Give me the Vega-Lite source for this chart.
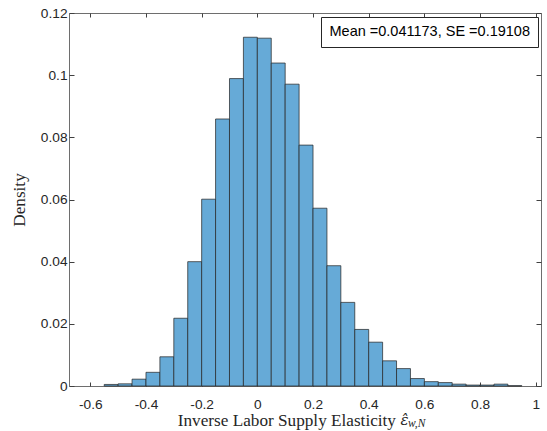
{
  "$schema": "https://vega.github.io/schema/vega-lite/v6.json",
  "width": 472,
  "height": 373,
  "autosize": {"type": "none"},
  "padding": {"left": 69, "top": 13, "right": 6, "bottom": 45},
  "background": "white",
  "config": {
    "view": {"stroke": "#6e6e6e", "strokeWidth": 1},
    "scale": {"continuousPadding": 0},
    "axis": {"grid": false, "domain": false, "tickColor": "#404040", "labelColor": "#262626", "labelFont": "Liberation Sans", "labelFontSize": 13.7, "titleFont": "Liberation Serif", "titleFontSize": 17.2, "titleFontWeight": "normal", "titleColor": "#262626"}
  },
  "data": {
    "values": [
      {"start": -0.55, "end": -0.5, "density": 0.0005},
      {"start": -0.5, "end": -0.45, "density": 0.0007},
      {"start": -0.45, "end": -0.4, "density": 0.0022},
      {"start": -0.4, "end": -0.35, "density": 0.0044},
      {"start": -0.35, "end": -0.3, "density": 0.0094},
      {"start": -0.3, "end": -0.25, "density": 0.0218},
      {"start": -0.25, "end": -0.2, "density": 0.04},
      {"start": -0.2, "end": -0.15, "density": 0.0601},
      {"start": -0.15, "end": -0.1, "density": 0.0859},
      {"start": -0.1, "end": -0.05, "density": 0.0989},
      {"start": -0.05, "end": 0, "density": 0.1122},
      {"start": 0, "end": 0.05, "density": 0.1119},
      {"start": 0.05, "end": 0.1, "density": 0.1039},
      {"start": 0.1, "end": 0.15, "density": 0.0971},
      {"start": 0.15, "end": 0.2, "density": 0.0775},
      {"start": 0.2, "end": 0.25, "density": 0.0572},
      {"start": 0.25, "end": 0.3, "density": 0.0387},
      {"start": 0.3, "end": 0.35, "density": 0.0269},
      {"start": 0.35, "end": 0.4, "density": 0.0182},
      {"start": 0.4, "end": 0.45, "density": 0.0141},
      {"start": 0.45, "end": 0.5, "density": 0.0081},
      {"start": 0.5, "end": 0.55, "density": 0.0056},
      {"start": 0.55, "end": 0.6, "density": 0.0024},
      {"start": 0.6, "end": 0.65, "density": 0.0014},
      {"start": 0.65, "end": 0.7, "density": 0.0011},
      {"start": 0.7, "end": 0.75, "density": 0.0006},
      {"start": 0.75, "end": 0.8, "density": 0.0003},
      {"start": 0.8, "end": 0.85, "density": 0.0003},
      {"start": 0.85, "end": 0.9, "density": 0.0006},
      {"start": 0.9, "end": 0.95, "density": 0.0001}
    ]
  },
  "resolve": {"axis": {"x": "independent", "y": "independent"}},
  "layer": [
    {
      "mark": {"type": "bar", "stroke": "#262626", "strokeWidth": 0.8, "strokeOpacity": 0.9},
      "encoding": {
        "x": {
          "field": "start", "type": "quantitative",
          "scale": {"domain": [-0.6765, 1.0189], "nice": false, "zero": false},
          "axis": {"orient": "bottom", "values": [-0.6, -0.4, -0.2, 0, 0.2, 0.4, 0.6, 0.8, 1], "labelExpr": "'' + datum.value", "tickSize": -4, "labelPadding": 15, "title": "Inverse Labor Supply Elasticity", "titleX": 108.3, "titleY": 39, "titleAlign": "left", "titleBaseline": "alphabetic", "titleAnchor": "start"}
        },
        "x2": {"field": "end"},
        "y": {
          "field": "density", "type": "quantitative",
          "scale": {"domain": [0, 0.12], "nice": false},
          "axis": {"orient": "left", "values": [0, 0.02, 0.04, 0.06, 0.08, 0.1, 0.12], "labelExpr": "'' + datum.value", "tickSize": -5, "labelPadding": 7, "title": "Density", "titleX": -50, "titleY": 186.5, "titleAngle": -90, "titleAlign": "center", "titleBaseline": "middle"}
        },
        "y2": {"datum": 0},
        "color": {
          "datum": "Mean =0.041173, SE =0.19108",
          "type": "nominal",
          "scale": {"range": ["#66aad7"]},
          "legend": {"orient": "none", "legendX": 252, "legendY": 4, "title": null, "strokeColor": "#262626", "fillColor": "white", "padding": 8, "symbolSize": 0, "symbolOpacity": 0, "symbolStrokeWidth": 0, "labelOffset": -14, "labelFont": "Liberation Sans", "labelFontSize": 14.5, "labelColor": "#000000", "labelLimit": 400}
        }
      }
    },
    {
      "mark": {"type": "bar", "opacity": 0},
      "encoding": {
        "x": {"field": "start", "type": "quantitative", "axis": {"orient": "top", "values": [-0.6, -0.4, -0.2, 0, 0.2, 0.4, 0.6, 0.8, 1], "labels": false, "tickSize": -4, "title": null}},
        "x2": {"field": "end"},
        "y": {"field": "density", "type": "quantitative", "axis": {"orient": "right", "values": [0, 0.02, 0.04, 0.06, 0.08, 0.1, 0.12], "labels": false, "tickSize": -5, "title": null}},
        "y2": {"datum": 0}
      }
    },
    {
      "data": {"values": [{"label": "ε̂", "x": 0.514, "y": -0.01239}]},
      "mark": {"type": "text", "font": "DejaVu Serif", "fontStyle": "italic", "fontSize": 15, "align": "left", "baseline": "alphabetic", "color": "#262626"},
      "encoding": {
        "x": {"field": "x", "type": "quantitative", "axis": null},
        "y": {"field": "y", "type": "quantitative", "axis": null},
        "text": {"field": "label"}
      }
    },
    {
      "data": {"values": [{"label": "w,N", "x": 0.541, "y": -0.01335}]},
      "mark": {"type": "text", "font": "Liberation Serif", "fontStyle": "italic", "fontSize": 11.5, "align": "left", "baseline": "alphabetic", "color": "#262626"},
      "encoding": {
        "x": {"field": "x", "type": "quantitative", "axis": null},
        "y": {"field": "y", "type": "quantitative", "axis": null},
        "text": {"field": "label"}
      }
    }
  ]
}
